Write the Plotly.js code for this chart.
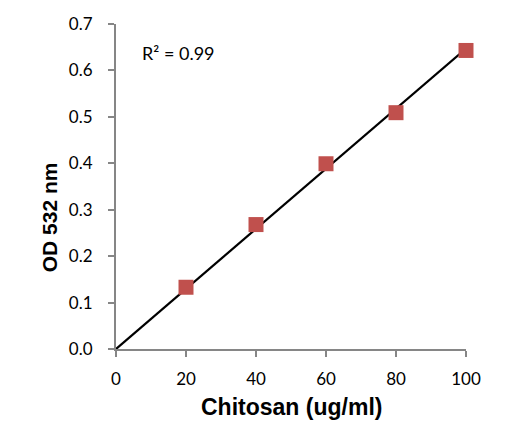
<!DOCTYPE html>
<html><head><meta charset="utf-8">
<script src="https://cdn.plot.ly/plotly-3.0.1.min.js"></script>
<style>html,body{margin:0;padding:0;background:#fff}#chart{width:505px;height:436px}</style>
</head><body><div id="chart"></div>
<script>
var concentrations = [20, 40, 60, 80, 100];
var odValues = [0.133, 0.268, 0.399, 0.509, 0.643];
var xTicks = [0, 20, 40, 60, 80, 100];
var yTicks = [0, 0.1, 0.2, 0.3, 0.4, 0.5, 0.6, 0.7];
var yTickLabels = ["0.0", "0.1", "0.2", "0.3", "0.4", "0.5", "0.6", "0.7"];
var xTitle = "Chitosan (ug/ml)";
var yTitle = "OD 532 nm";
var r2Label = "R² = 0.99";

// least-squares fit through origin
var sxy = 0, sxx = 0;
for (var i = 0; i < concentrations.length; i++) { sxy += concentrations[i] * odValues[i]; sxx += concentrations[i] * concentrations[i]; }
var slope = sxy / sxx;
var fitX = [0, 100];
var fitY = fitX.map(function (x) { return slope * x; });

var tickFont = {family: "Lato, 'Open Sans', sans-serif", size: 17, color: "#000"};
var titleFamily = "'Liberation Sans', Arial, sans-serif";

var data = [
  {x: fitX, y: fitY, mode: "lines", line: {color: "#000", width: 2.2}, hoverinfo: "skip", showlegend: false, cliponaxis: false},
  {x: concentrations, y: odValues, mode: "markers", marker: {symbol: "square", size: 15, color: "#C0504D"}, showlegend: false, cliponaxis: false}
];
var layout = {
  width: 505, height: 436,
  margin: {l: 116, r: 39, t: 24, b: 87},
  paper_bgcolor: "#fff", plot_bgcolor: "#fff",
  showlegend: false,
  xaxis: {range: [0, 100], tickvals: xTicks, ticktext: xTicks.map(String), showgrid: false, zeroline: false,
    showline: true, linecolor: "#868686", linewidth: 2, ticks: "outside", ticklen: 6, tickwidth: 2, tickcolor: "#868686",
    tickfont: tickFont, ticklabelstandoff: 8},
  yaxis: {range: [0, 0.7], tickvals: yTicks, ticktext: yTickLabels, showgrid: false, zeroline: false,
    showline: true, linecolor: "#868686", linewidth: 2, ticks: "outside", ticklen: 6, tickwidth: 2, tickcolor: "#868686",
    tickfont: tickFont, ticklabelstandoff: 12},
  annotations: [
    {xref: "paper", yref: "paper", x: 0.0686, y: 0.911, xanchor: "left", yanchor: "middle",
     text: r2Label, showarrow: false, font: {family: "Lato, 'Open Sans', sans-serif", size: 18, color: "#000"}},
    {xref: "paper", yref: "paper", x: 0.5, y: -0.178, xanchor: "center", yanchor: "middle",
     text: "<b>" + xTitle + "</b>", showarrow: false, font: {family: titleFamily, size: 23, color: "#000"}},
    {xref: "paper", yref: "paper", x: -0.189, y: 0.405, xanchor: "center", yanchor: "middle", textangle: -90,
     text: "<b>" + yTitle + "</b>", showarrow: false, font: {family: titleFamily, size: 21, color: "#000"}}
  ]
};
Plotly.newPlot("chart", data, layout, {displayModeBar: false, staticPlot: true});
</script></body></html>
